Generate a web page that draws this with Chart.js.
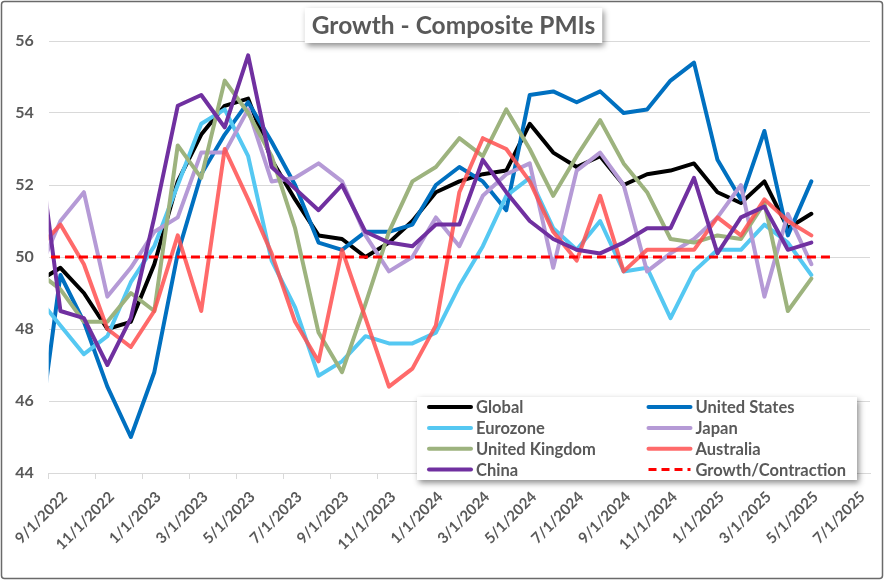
<!DOCTYPE html>
<html>
<head>
<meta charset="utf-8">
<script src="https://cdn.jsdelivr.net/npm/chart.js@4.4.1/dist/chart.umd.min.js"></script>
<style>
html,body{margin:0;padding:0;background:#fff;overflow:hidden}
#wrap{width:884px;height:580px;position:relative}
</style>
</head>
<body>
<div id="wrap"><canvas id="c" width="884" height="580"></canvas></div>
<script>
// ---------- DATA ----------
const chartTitle = 'Growth - Composite PMIs';

// monthly observations (plotted mid-month)
const months = ['2022-08','2022-09','2022-10','2022-11','2022-12',
  '2023-01','2023-02','2023-03','2023-04','2023-05','2023-06','2023-07','2023-08','2023-09','2023-10','2023-11','2023-12',
  '2024-01','2024-02','2024-03','2024-04','2024-05','2024-06','2024-07','2024-08','2024-09','2024-10','2024-11','2024-12',
  '2025-01','2025-02','2025-03','2025-04','2025-05'];
const thresholdMonths = ['2022-08','2022-09','2022-10','2022-11','2022-12',
  '2023-01','2023-02','2023-03','2023-04','2023-05','2023-06','2023-07','2023-08','2023-09','2023-10','2023-11','2023-12',
  '2024-01','2024-02','2024-03','2024-04','2024-05','2024-06','2024-07','2024-08','2024-09','2024-10','2024-11','2024-12',
  '2025-01','2025-02','2025-03','2025-04','2025-05','2025-06'];

const globalPMI    = [49.3,49.7,49.0,48.0,48.2,49.8,52.1,53.4,54.2,54.4,52.7,51.6,50.6,50.5,50.0,50.4,51.0,51.8,52.1,52.3,52.4,53.7,52.9,52.5,52.8,52.0,52.3,52.4,52.6,51.8,51.5,52.1,50.8,51.2];
const usPMI        = [44.6,49.5,48.2,46.4,45.0,46.8,50.1,52.3,53.4,54.3,53.2,52.0,50.4,50.2,50.7,50.7,50.9,52.0,52.5,52.1,51.3,54.5,54.6,54.3,54.6,54.0,54.1,54.9,55.4,52.7,51.6,53.5,50.6,52.1];
const eurozonePMI  = [48.9,48.1,47.3,47.8,49.3,50.3,52.0,53.7,54.1,52.8,49.9,48.6,46.7,47.1,47.8,47.6,47.6,47.9,49.2,50.3,51.7,52.2,50.8,50.2,51.0,49.6,49.7,48.3,49.6,50.2,50.2,50.9,50.4,49.5];
const japanPMI     = [49.5,51.0,51.8,48.9,49.7,50.7,51.1,52.9,52.9,54.1,52.1,52.2,52.6,52.1,50.6,49.6,50.0,51.1,50.3,51.7,52.3,52.6,49.7,52.4,52.9,52.0,49.6,50.1,50.5,51.1,52.0,48.9,51.2,49.8];
const ukPMI        = [49.6,49.1,48.2,48.2,49.0,48.5,53.1,52.2,54.9,54.0,52.8,50.8,47.9,46.8,48.7,50.7,52.1,52.5,53.3,52.8,54.1,53.0,51.7,52.8,53.8,52.6,51.8,50.5,50.4,50.6,50.5,51.5,48.5,49.4];
const australiaPMI = [50.2,50.9,49.8,48.0,47.5,48.5,50.6,48.5,53.0,51.6,50.1,48.2,47.1,50.2,48.3,46.4,46.9,48.1,51.8,53.3,53.0,52.1,50.7,49.9,51.7,49.6,50.2,50.2,50.2,51.1,50.6,51.6,51.0,50.6];
const chinaPMI     = [53.5,48.5,48.3,47.0,48.3,51.1,54.2,54.5,53.6,55.6,52.5,51.9,51.3,52.0,50.7,50.4,50.3,50.9,50.9,52.7,51.8,51.0,50.5,50.2,50.1,50.4,50.8,50.8,52.2,50.1,51.1,51.4,50.2,50.4];
const growthLine   = [50,50,50,50,50,50,50,50,50,50,50,50,50,50,50,50,50,50,50,50,50,50,50,50,50,50,50,50,50,50,50,50,50,50,50];

const xTickLabels = ['9/1/2022','11/1/2022','1/1/2023','3/1/2023','5/1/2023','7/1/2023','9/1/2023','11/1/2023',
  '1/1/2024','3/1/2024','5/1/2024','7/1/2024','9/1/2024','11/1/2024','1/1/2025','3/1/2025','5/1/2025','7/1/2025'];
const yTickValues = [44,46,48,50,52,54,56];

const seriesNames = ['Global','United States','Eurozone','Japan','United Kingdom','Australia','China','Growth/Contraction'];

// ---------- BUILD ----------
// months since 9/1/2022, observation at mid-month
function monthPos(s){ const [y,m]=s.split('-').map(Number); return (y-2022)*12+(m-9)+0.5; }
function pts(ms, vals){ return vals.map((v,i)=>({x:monthPos(ms[i]), y:v})); }

const styles = [
  {color:'#000000', width:4},
  {color:'#0070C0', width:4},
  {color:'#55C8F2', width:4},
  {color:'#B59AD6', width:4},
  {color:'#9DB37E', width:4},
  {color:'rgba(255,80,80,0.85)', width:4},
  {color:'#7030A0', width:4},
  {color:'#FF0000', width:3, dash:[9,5]}
];
const seriesData = [
  pts(months, globalPMI), pts(months, usPMI), pts(months, eurozonePMI), pts(months, japanPMI),
  pts(months, ukPMI), pts(months, australiaPMI), pts(months, chinaPMI), pts(thresholdMonths, growthLine)
];

const datasets = seriesNames.map((name,i)=>({
  label:name, data:seriesData[i],
  borderColor:styles[i].color, backgroundColor:styles[i].color,
  borderWidth:styles[i].width, borderDash:styles[i].dash||[],
  pointRadius:0, pointHoverRadius:0, tension:0, fill:false,
  borderJoinStyle:'round', borderCapStyle: styles[i].dash ? 'butt' : 'round',
  order: seriesNames.length-1-i,
  clip:{left:0, top:10, right:10, bottom:10}
}));

const FONT = 'Lato, "Open Sans", sans-serif';
const TXT = '#595959';

function roundRect(ctx,x,y,w,h,r){
  ctx.beginPath();
  ctx.moveTo(x+r,y); ctx.lineTo(x+w-r,y); ctx.quadraticCurveTo(x+w,y,x+w,y+r);
  ctx.lineTo(x+w,y+h-r); ctx.quadraticCurveTo(x+w,y+h,x+w-r,y+h);
  ctx.lineTo(x+r,y+h); ctx.quadraticCurveTo(x,y+h,x,y+h-r);
  ctx.lineTo(x,y+r); ctx.quadraticCurveTo(x,y,x+r,y); ctx.closePath();
}

const decor = {
  id:'decor',
  beforeDraw(chart){
    const ctx=chart.ctx; ctx.save(); ctx.fillStyle='#fff'; ctx.fillRect(0,0,chart.width,chart.height); ctx.restore();
  },
  afterDraw(chart){
    const ctx=chart.ctx;
    // title box
    ctx.save();
    ctx.font='bold 24.5px '+FONT;
    const tw=ctx.measureText(chartTitle).width;
    const cx=453.5, bw=tw+14, bx=cx-bw/2, by=8, bh=35;
    ctx.shadowColor='rgba(0,0,0,0.45)'; ctx.shadowBlur=6; ctx.shadowOffsetX=2; ctx.shadowOffsetY=3;
    ctx.fillStyle='#fff'; ctx.fillRect(bx,by,bw,bh);
    ctx.shadowColor='transparent';
    ctx.fillStyle=TXT; ctx.textAlign='center'; ctx.textBaseline='middle';
    ctx.fillText(chartTitle,cx,by+bh/2+1);
    ctx.restore();

    // legend box
    ctx.save();
    const lx=417, ly=397, lw=440, lh=83;
    ctx.shadowColor='rgba(0,0,0,0.45)'; ctx.shadowBlur=6; ctx.shadowOffsetX=2; ctx.shadowOffsetY=3;
    ctx.fillStyle='#fff'; ctx.fillRect(lx,ly,lw,lh);
    ctx.shadowColor='transparent';
    ctx.font='bold 16.5px '+FONT; ctx.textBaseline='middle'; ctx.textAlign='left';
    const rows=[407,428,448.7,469.5], cols=[428,647.5];
    chart.data.datasets.forEach((ds,i)=>{
      const r=Math.floor(i/2), c=i%2;
      const y=rows[r], x=cols[c];
      ctx.beginPath(); ctx.strokeStyle=ds.borderColor; ctx.lineWidth=ds.borderWidth;
      ctx.setLineDash(ds.borderDash && ds.borderDash.length ? [8,5] : []);
      ctx.lineCap = ds.borderDash && ds.borderDash.length ? 'butt' : 'round';
      ctx.moveTo(x+1,y); ctx.lineTo(x+43,y); ctx.stroke();
      ctx.setLineDash([]);
      ctx.fillStyle=TXT; ctx.fillText(ds.label,x+48,y+1);
    });
    ctx.restore();

    // outer border
    ctx.save();
    ctx.strokeStyle='#6a6a6a'; ctx.lineWidth=1.5;
    roundRect(ctx,1.5,1.5,881,577,3); ctx.stroke();
    ctx.restore();
  }
};

new Chart(document.getElementById('c'),{
  type:'line',
  data:{datasets},
  options:{
    responsive:false, animation:false, events:[],
    layout:{padding:{top:41,right:14,left:0,bottom:0}},
    plugins:{legend:{display:false}, title:{display:false}, tooltip:{enabled:false}},
    scales:{
      x:{
        type:'linear', min:0, max:35,
        afterBuildTicks:(s)=>{ s.ticks = xTickLabels.map((_,i)=>({value:i*2})); },
        ticks:{autoSkip:false, minRotation:45, maxRotation:45, labelOffset:16, padding:9,
          color:TXT, font:{family:FONT, size:15, weight:'bold'},
          callback:(v)=> xTickLabels[Math.round(v/2)] ?? ''},
        grid:{drawOnChartArea:false, drawTicks:true, tickLength:6, color:'#D9D9D9'},
        border:{display:true, color:'#D9D9D9', width:1},
        afterFit:(s)=>{ s.height=107; s.paddingLeft=0; s.paddingRight=0; }
      },
      y:{
        min:44, max:56,
        afterBuildTicks:(s)=>{ s.ticks = yTickValues.map(v=>({value:v})); },
        ticks:{padding:15, color:TXT, font:{family:FONT, size:16, weight:'bold'}},
        grid:{color:'#D9D9D9', drawTicks:false, lineWidth:1},
        border:{display:false},
        afterFit:(s)=>{ s.width=48.7; s.paddingTop=0; s.paddingBottom=0; }
      }
    }
  },
  plugins:[decor]
});
</script>
</body>
</html>
